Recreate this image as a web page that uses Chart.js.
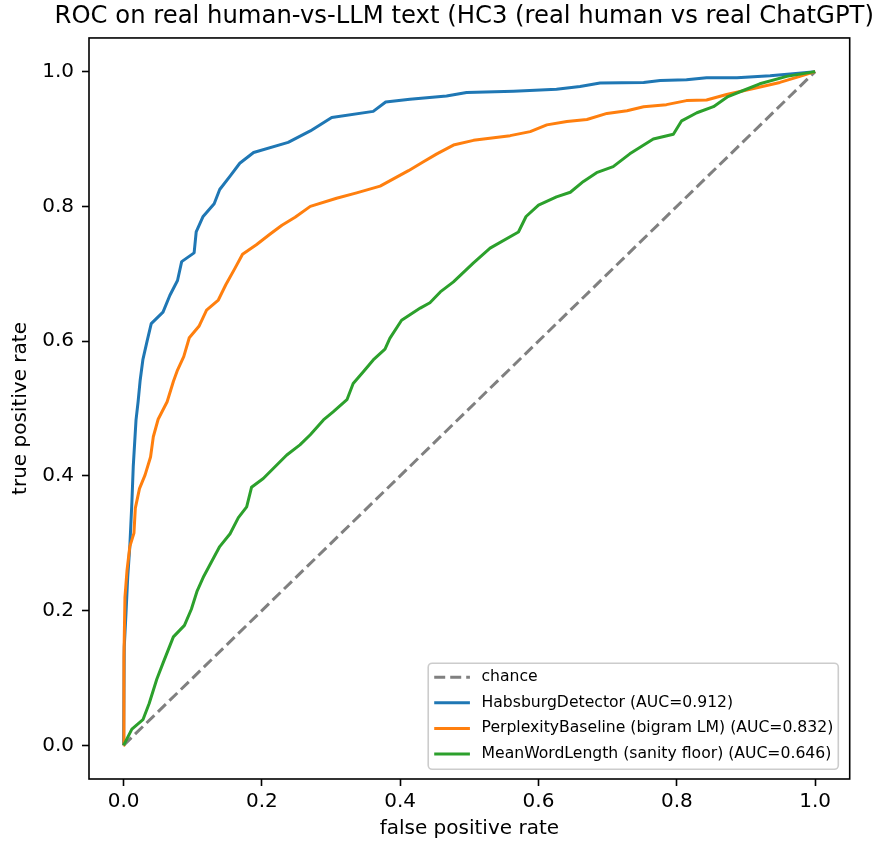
<!DOCTYPE html>
<html>
<head>
<meta charset="utf-8">
<script src="https://cdn.jsdelivr.net/npm/chart.js@4.4.1/dist/chart.umd.min.js"></script>
<style>
  html, body { margin: 0; padding: 0; background: #fff; overflow: hidden; }
  canvas { display: block; }
</style>
</head>
<body>
<canvas id="myChart" width="938" height="841"></canvas>
<script>
// ROC curves (fpr, tpr)
const chanceFpr = [0, 1];
const chanceTpr = [0, 1];

const habsburgFpr = [0, 0.001, 0.0035, 0.006, 0.009, 0.012, 0.014, 0.018, 0.021, 0.024, 0.028, 0.034, 0.040,
  0.057, 0.067, 0.078, 0.084, 0.102, 0.105, 0.115, 0.131, 0.139, 0.154, 0.168, 0.188, 0.238, 0.270, 0.301,
  0.361, 0.379, 0.414, 0.467, 0.496, 0.564, 0.626, 0.660, 0.689, 0.752, 0.776, 0.814, 0.843, 0.887, 0.935, 0.968, 1];
const habsburgTpr = [0, 0.146, 0.196, 0.250, 0.295, 0.360, 0.414, 0.483, 0.510, 0.542, 0.573, 0.600, 0.626,
  0.643, 0.668, 0.690, 0.718, 0.731, 0.762, 0.785, 0.804, 0.825, 0.845, 0.864, 0.880, 0.895, 0.912, 0.932,
  0.941, 0.955, 0.959, 0.964, 0.969, 0.971, 0.974, 0.978, 0.983, 0.984, 0.987, 0.988, 0.991, 0.991, 0.994, 0.997, 1];

const perplexityFpr = [0, 0.0005, 0.002, 0.005, 0.009, 0.015, 0.017, 0.023, 0.031, 0.039, 0.043, 0.050, 0.063,
  0.072, 0.078, 0.087, 0.095, 0.109, 0.120, 0.137, 0.148, 0.161, 0.172, 0.192, 0.212, 0.229, 0.248, 0.270,
  0.308, 0.337, 0.371, 0.412, 0.433, 0.453, 0.477, 0.506, 0.559, 0.588, 0.612, 0.641, 0.670, 0.699, 0.728,
  0.752, 0.785, 0.814, 0.843, 0.872, 0.911, 0.949, 0.978, 1];
const perplexityTpr = [0, 0.130, 0.220, 0.260, 0.295, 0.315, 0.352, 0.381, 0.401, 0.428, 0.458, 0.484, 0.510,
  0.540, 0.557, 0.577, 0.605, 0.622, 0.646, 0.661, 0.684, 0.708, 0.729, 0.743, 0.759, 0.772, 0.784, 0.800,
  0.812, 0.820, 0.830, 0.853, 0.866, 0.878, 0.891, 0.898, 0.905, 0.911, 0.921, 0.926, 0.929, 0.938, 0.942,
  0.948, 0.951, 0.957, 0.958, 0.966, 0.975, 0.984, 0.993, 1];

const meanWordFpr = [0, 0.012, 0.028, 0.037, 0.048, 0.057, 0.072, 0.088, 0.098, 0.106, 0.116, 0.127, 0.139,
  0.154, 0.166, 0.178, 0.185, 0.202, 0.236, 0.255, 0.270, 0.289, 0.303, 0.323, 0.332, 0.347, 0.361, 0.378,
  0.385, 0.402, 0.429, 0.443, 0.458, 0.477, 0.506, 0.530, 0.571, 0.582, 0.600, 0.626, 0.646, 0.665, 0.684,
  0.708, 0.732, 0.766, 0.795, 0.807, 0.829, 0.853, 0.874, 0.896, 0.920, 0.959, 1];
const meanWordTpr = [0, 0.024, 0.038, 0.062, 0.098, 0.122, 0.161, 0.178, 0.202, 0.228, 0.251, 0.272, 0.295,
  0.314, 0.338, 0.354, 0.383, 0.396, 0.431, 0.446, 0.461, 0.483, 0.495, 0.513, 0.537, 0.555, 0.572, 0.588,
  0.604, 0.631, 0.649, 0.657, 0.673, 0.688, 0.716, 0.738, 0.762, 0.785, 0.802, 0.814, 0.821, 0.837, 0.850,
  0.859, 0.878, 0.900, 0.907, 0.927, 0.939, 0.948, 0.963, 0.972, 0.982, 0.993, 1];

const seriesLabels = [
  'chance',
  'HabsburgDetector (AUC=0.912)',
  'PerplexityBaseline (bigram LM) (AUC=0.832)',
  'MeanWordLength (sanity floor) (AUC=0.646)'
];
const xTickValues = [0, 0.2, 0.4, 0.6, 0.8, 1.0];
const yTickValues = [0, 0.2, 0.4, 0.6, 0.8, 1.0];

function pts(xs, ys) {
  return xs.map((x, i) => ({ x: x, y: ys[i] }));
}

Chart.defaults.font.family = "'DejaVu Sans', sans-serif";
Chart.defaults.color = '#000';

// black box around the axes, like matplotlib spines
const frame = {
  id: 'frame',
  afterDatasetsDraw(chart) {
    const a = chart.chartArea, ctx = chart.ctx;
    ctx.save();
    ctx.strokeStyle = '#000';
    ctx.lineWidth = 1.6;
    ctx.strokeRect(a.left, a.top, a.right - a.left, a.bottom - a.top);
    ctx.restore();
  }
};

// legend in the lower right corner of the axes
const cornerLegend = {
  id: 'cornerLegend',
  afterDraw(chart) {
    const a = chart.chartArea, ctx = chart.ctx;
    const sets = chart.data.datasets;
    ctx.save();
    ctx.font = '15.65px "DejaVu Sans"';
    let maxW = 0;
    sets.forEach(d => { maxW = Math.max(maxW, ctx.measureText(d.label).width); });
    const w = 53.3 + maxW + 5, rowH = 25.6, h = 14 + rowH * (sets.length - 1) + 15.3;
    const right = a.right - 11.4, bottom = a.bottom - 9.7;
    const left = right - w, top = bottom - h;
    ctx.beginPath();
    ctx.roundRect(left, top, w, h, 4);
    ctx.fillStyle = 'rgba(255,255,255,0.8)';
    ctx.fill();
    ctx.strokeStyle = '#cccccc';
    ctx.lineWidth = 1.6;
    ctx.stroke();
    sets.forEach((d, i) => {
      const y = top + 14 + i * rowH;
      ctx.beginPath();
      ctx.setLineDash(d.borderDash || []);
      ctx.strokeStyle = d.borderColor;
      ctx.lineWidth = d.borderWidth;
      ctx.moveTo(left + 6, y);
      ctx.lineTo(left + 41.7, y);
      ctx.stroke();
      ctx.setLineDash([]);
      ctx.fillStyle = '#000';
      ctx.textBaseline = 'middle';
      ctx.textAlign = 'left';
      ctx.fillText(d.label, left + 53.3, y);
    });
    ctx.restore();
  }
};

const tickGrid = { drawOnChartArea: false, drawTicks: true, tickLength: 7, tickWidth: 1.6, tickColor: '#000' };

let myChart = document.getElementById('myChart').getContext('2d');

let chart = new Chart(myChart, {
  type: 'line',
  data: {
    datasets: [{
      label: seriesLabels[0],
      data: pts(chanceFpr, chanceTpr),
      borderColor: '#808080',
      borderDash: [11, 5],
      borderWidth: 3,
      order: 3
    }, {
      label: seriesLabels[1],
      data: pts(habsburgFpr, habsburgTpr),
      borderColor: '#1f77b4',
      borderWidth: 3,
      order: 2
    }, {
      label: seriesLabels[2],
      data: pts(perplexityFpr, perplexityTpr),
      borderColor: '#ff7f0e',
      borderWidth: 3,
      order: 1
    }, {
      label: seriesLabels[3],
      data: pts(meanWordFpr, meanWordTpr),
      borderColor: '#2ca02c',
      borderWidth: 3,
      order: 0
    }]
  },
  options: {
    responsive: false,
    animation: false,
    events: [],
    elements: {
      point: { radius: 0 },
      line: { tension: 0, fill: false, borderJoinStyle: 'round', borderCapStyle: 'butt' }
    },
    layout: { padding: 0 },
    plugins: {
      legend: { display: false },
      tooltip: { enabled: false },
      title: {
        display: true,
        text: 'ROC on real human-vs-LLM text (HC3 (real human vs real ChatGPT))',
        font: { size: 24.3, weight: 'normal' },
        color: '#000',
        padding: { top: 2.5, bottom: 6.3 }
      }
    },
    scales: {
      x: {
        type: 'linear',
        min: -0.05,
        max: 1.05,
        afterBuildTicks: s => { s.ticks = xTickValues.map(v => ({ value: v })); },
        afterFit: s => { s.height = 62; },
        ticks: { callback: v => v.toFixed(1), font: { size: 20 }, padding: 4, maxRotation: 0, autoSkip: false },
        grid: tickGrid,
        border: { display: false },
        title: { display: true, text: 'false positive rate', font: { size: 20 }, padding: { top: 0, bottom: 0 } }
      },
      y: {
        type: 'linear',
        min: -0.05,
        max: 1.05,
        afterBuildTicks: s => { s.ticks = yTickValues.map(v => ({ value: v })); },
        afterFit: s => { s.width = 89; },
        ticks: { callback: v => v.toFixed(1), font: { size: 20 }, padding: 8, autoSkip: false },
        grid: tickGrid,
        border: { display: false },
        title: { display: true, text: 'true positive rate', font: { size: 20 }, padding: { top: 9, bottom: 9 } }
      },
      spacer: {
        type: 'linear',
        position: 'right',
        afterFit: s => { s.width = 938 - 849.7; },
        ticks: { display: false },
        grid: { display: false },
        border: { display: false }
      }
    }
  },
  plugins: [frame, cornerLegend]
});
</script>
</body>
</html>
